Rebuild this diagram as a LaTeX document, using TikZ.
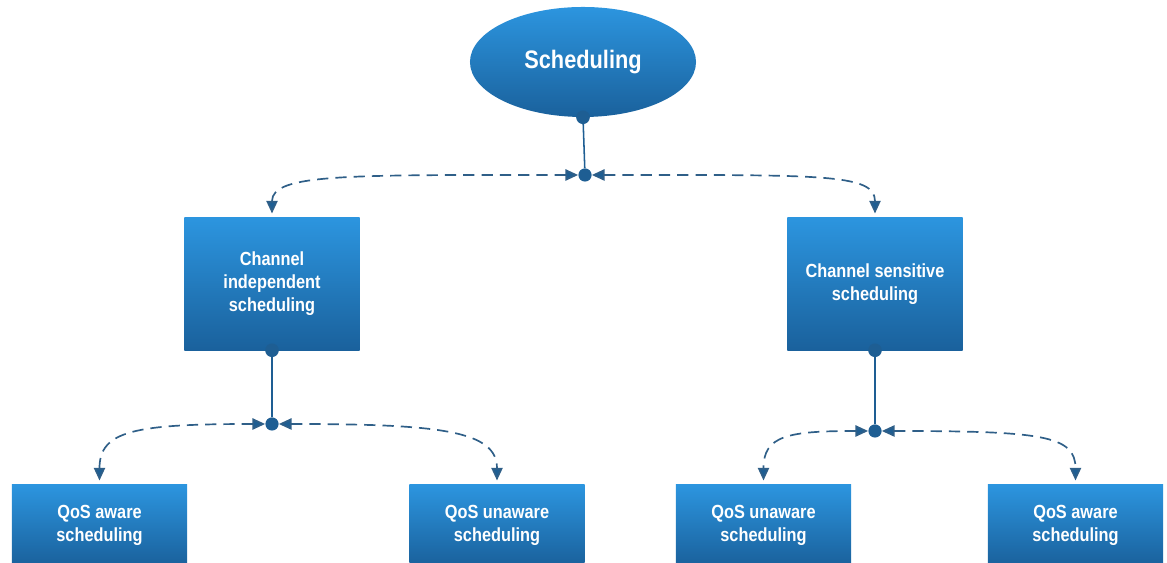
\documentclass[tikz,border=0pt]{standalone}
\usepackage{fontspec}
\newfontfamily\boxfont{Liberation Sans}[FakeStretch=0.86]
\usetikzlibrary{shapes,arrows.meta}
\definecolor{boxtop}{HTML}{2C95DF}
\definecolor{boxbot}{HTML}{1A619C}
\definecolor{linkcol}{HTML}{1E5E93}
\definecolor{dashcol}{HTML}{2F5F88}
\begin{document}
\begin{tikzpicture}[x=0.025cm,y=0.025cm]
    \tikzstyle{every node}=[font=\boxfont\bfseries, text=white]
    \tikzstyle{topnode}=[ellipse, top color=boxtop, bottom color=boxbot, minimum width=5.65cm, minimum height=2.75cm, font=\boxfont\bfseries\fontsize{18}{20}\selectfont]
    \tikzstyle{catbox}=[rectangle, top color=boxtop, bottom color=boxbot, minimum width=4.375cm, minimum height=3.3cm, align=center, font=\boxfont\bfseries\fontsize{13.5}{16.4}\selectfont]
    \tikzstyle{leafbox}=[catbox, minimum height=2cm]
    \tikzstyle{junction}=[circle, fill=linkcol, inner sep=0pt, minimum size=0.33cm]
    \tikzstyle{pin}=[linkcol, line width=1.1pt]
    \tikzstyle{branch}=[dashcol, dashed, dash pattern=on 8pt off 5pt, line width=1.2pt, {Triangle[length=9pt,width=8pt,fill=linkcol]}-{Triangle[length=9pt,width=8pt,fill=linkcol]}]
    \useasboundingbox (0,0) rectangle (1167,563);
    \clip (0,0) rectangle (1167,563);
      % nodes
      \node[topnode] (sched) at (583,501) {Scheduling};
      \node[catbox] (indep) at (272,279) {Channel\\independent\\scheduling};
      \node[catbox] (sens) at (875,279) {Channel sensitive\\scheduling};
      \node[leafbox] (qa1) at (99.5,38) {QoS aware\\scheduling};
      \node[leafbox] (qu1) at (497,38) {QoS unaware\\scheduling};
      \node[leafbox] (qu2) at (763.5,38) {QoS unaware\\scheduling};
      \node[leafbox] (qa2) at (1075.5,38) {QoS aware\\scheduling};
      \node[junction] (j0) at (585,388) {};
      \node[junction] (j1) at (272,139) {};
      \node[junction] (j2) at (875,132) {};
      % pins on the bottom edges
      \fill[linkcol] (sched.south) circle (0.17cm);
      \fill[linkcol] (indep.south) circle (0.17cm);
      \fill[linkcol] (sens.south) circle (0.17cm);
      \draw[pin] (sched.south) -- (j0);
      \draw[pin] (indep.south) -- (j1);
      \draw[pin] (sens.south) -- (j2);
      % dashed branches
      \draw[branch] (j0.west) .. controls +(-230,0) and +(0,40) .. ([yshift=3pt]indep.north);
      \draw[branch] (j0.east) .. controls +(230,0) and +(0,40) .. ([yshift=3pt]sens.north);
      \draw[branch] (j1.west) .. controls +(-130,0) and +(0,50) .. ([yshift=3pt]qa1.north);
      \draw[branch] (j1.east) .. controls +(160,0) and +(0,50) .. ([yshift=3pt]qu1.north);
      \draw[branch] (j2.west) .. controls +(-80,0) and +(0,45) .. ([yshift=3pt]qu2.north);
      \draw[branch] (j2.east) .. controls +(160,0) and +(0,45) .. ([yshift=3pt]qa2.north);
  \end{tikzpicture}
\end{document}
